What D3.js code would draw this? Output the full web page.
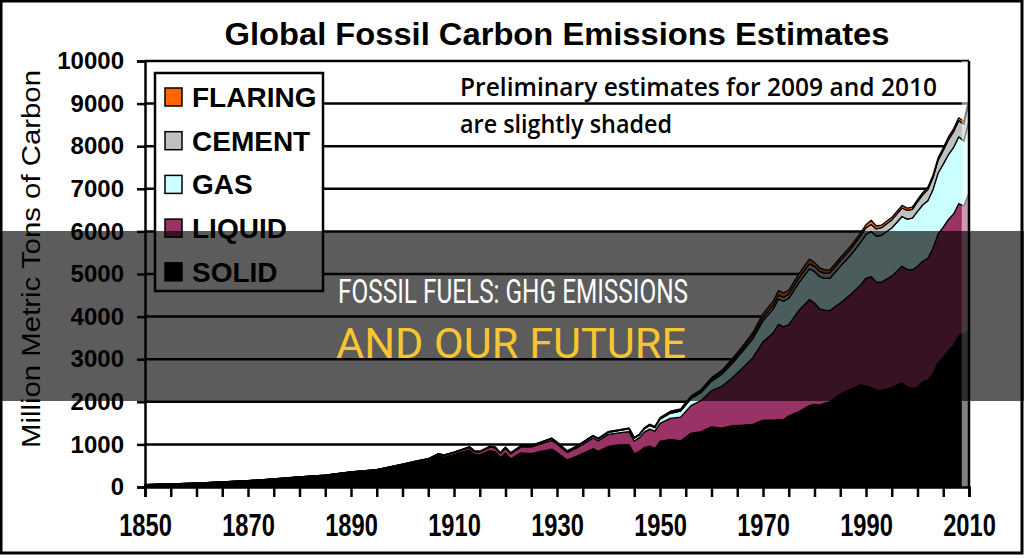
<!DOCTYPE html>
<html>
<head>
<meta charset="utf-8">
<script src="https://cdn.jsdelivr.net/npm/d3@7"></script>
<style>
html, body { margin: 0; padding: 0; background: #fff; }
svg { display: block; }
</style>
</head>
<body>
<svg id="chart" width="1024" height="558"></svg>
<script>
// estimates, million metric tons of carbon
var years = [1850,1855,1860,1865,1870,1875,1880,1885,1890,1895,
  1900,1903,1905,1907,1908,1910,1913,1914,1915,1917,
  1918,1919,1920,1921,1923,1925,1927,1929,1930,1932,
  1934,1936,1937,1938,1940,1942,1944,1945,1946,1947,
  1948,1949,1950,1952,1954,1956,1958,1960,1962,1964,
  1966,1968,1970,1972,1973,1974,1975,1977,1979,1980,
  1981,1982,1983,1985,1987,1989,1990,1991,1992,1993,
  1995,1997,1998,1999,2000,2001,2002,2003,2004,2005,
  2006,2007,2008,2009,2010];

var solid = [54,71,91,119,146,186,233,272,345,392,
  507,580,620,735,700,760,870,770,752,855,
  830,690,800,660,800,785,840,890,810,635,
  730,845,900,835,955,990,990,780,840,925,
  960,900,1070,1120,1080,1260,1300,1410,1380,1440,
  1450,1470,1570,1570,1580,1580,1670,1770,1910,1940,
  1920,1970,2000,2180,2290,2400,2370,2340,2280,2270,
  2330,2450,2350,2320,2340,2470,2500,2660,2920,3040,
  3200,3330,3550,3600,3700];

var liquid = [0,0,0,0,1,2,3,4,9,12,
  20,28,34,38,40,47,58,62,70,82,
  86,95,108,118,140,155,180,205,200,175,
  200,230,250,250,280,280,310,300,320,370,
  400,410,423,490,560,650,730,849,985,1120,
  1340,1560,1838,2050,2240,2180,2140,2380,2490,2380,
  2260,2180,2140,2140,2230,2350,2530,2600,2530,2540,
  2620,2730,2760,2780,2840,2830,2870,2940,3020,3060,
  3080,3080,3100,3000,3200];

var gas = [0,0,0,0,0,0,0,1,2,2,
  5,6,6,8,7,8,10,11,12,14,
  16,16,18,18,23,26,32,38,32,28,
  32,40,43,42,46,52,63,64,64,75,
  85,85,97,120,140,160,190,227,280,335,
  390,450,493,560,590,600,620,650,720,740,
  760,750,760,860,920,1000,1030,1060,1080,1100,
  1130,1170,1180,1210,1290,1320,1350,1380,1430,1480,
  1520,1560,1570,1520,1700];

var cement = [0,0,0,0,0,0,0,0,0,0,
  2,3,3,3,3,4,5,4,4,4,
  4,5,6,6,7,9,10,12,11,9,
  11,15,16,15,18,20,20,16,14,22,
  24,24,18,22,25,30,35,43,48,57,
  63,72,78,86,92,93,95,108,119,120,
  121,121,125,131,143,155,157,161,167,176,
  190,200,203,206,226,240,260,280,300,320,
  350,370,380,400,450];

var flaring = [0,0,0,0,0,0,0,0,0,0,
  0,0,0,0,0,0,0,0,0,0,
  0,0,0,0,0,0,0,0,0,0,
  0,0,0,0,0,0,0,0,0,0,
  0,0,23,26,30,33,35,39,44,52,
  60,70,87,100,110,107,90,100,110,90,
  85,75,75,70,70,65,70,100,70,60,
  60,60,55,55,50,50,55,55,60,62,
  65,68,66,66,70];

var keys = ["solid", "liquid", "gas", "cement", "flaring"];
var legendNames = ["FLARING", "CEMENT", "GAS", "LIQUID", "SOLID"];
var colors = { solid: "#000000", liquid: "#993366", gas: "#ccffff", cement: "#c0c0c0", flaring: "#ff6600" };
var yTicks = d3.range(0, 10001, 1000);
var xTicks = d3.range(1850, 2011, 5);

var rows = years.map(function (yr, i) {
  return { year: yr, solid: solid[i], liquid: liquid[i], gas: gas[i], cement: cement[i], flaring: flaring[i] };
});

var svg = d3.select("#chart");
var font = "'Liberation Sans', Arial, sans-serif";

var x = d3.scaleLinear().domain([1850, 2010]).range([145, 969]);
var y = d3.scaleLinear().domain([0, 10000]).range([487, 61]);

// squeeze a text to a given width
function squeeze(sel, factor) {
  sel.each(function () {
    var w = this.getComputedTextLength();
    d3.select(this).attr("textLength", w * factor).attr("lengthAdjust", "spacingAndGlyphs");
  });
}

// title
svg.append("text")
  .attr("x", 557).attr("y", 45)
  .attr("text-anchor", "middle")
  .style("font-family", font).style("font-weight", "bold").style("font-size", "31px")
  .attr("textLength", 665).attr("lengthAdjust", "spacingAndGlyphs")
  .text("Global Fossil Carbon Emissions Estimates");

// gridlines
svg.append("g").selectAll("line")
  .data(yTicks.slice(1))
  .join("line")
  .attr("x1", x(1850)).attr("x2", x(2010))
  .attr("y1", function (d) { return y(d); }).attr("y2", function (d) { return y(d); })
  .attr("stroke", "#000").attr("stroke-width", 2.5);

// stacked areas
var stack = d3.stack().keys(keys);
var series = stack(rows);
var area = d3.area()
  .x(function (d) { return x(d.data.year); })
  .y0(function (d) { return y(d[0]); })
  .y1(function (d) { return y(d[1]); });

svg.append("g").selectAll("path")
  .data(series)
  .join("path")
  .attr("d", area)
  .attr("fill", function (d) { return colors[d.key]; })
  .attr("stroke", "#000").attr("stroke-width", 1.3).attr("stroke-linejoin", "round");

// preliminary years shading
svg.append("rect")
  .attr("x", x(2008.6)).attr("y", y(10000))
  .attr("width", x(2010) - x(2008.6)).attr("height", y(0) - y(10000))
  .attr("fill", "#fff").attr("opacity", 0.5);

// right border of plot
svg.append("line")
  .attr("x1", x(2010)).attr("x2", x(2010)).attr("y1", y(10000)).attr("y2", y(0))
  .attr("stroke", "#000").attr("stroke-width", 2.5);

// axes
var yAxis = svg.append("g")
  .attr("transform", "translate(" + x(1850) + ",0)")
  .call(d3.axisLeft(y).tickValues(yTicks).tickSize(8).tickPadding(13).tickFormat(d3.format("d")));
yAxis.selectAll("text")
  .style("font-family", font).style("font-weight", "bold").style("font-size", "24px").attr("fill", "#000");

var xAxis = svg.append("g")
  .attr("transform", "translate(0," + y(0) + ")")
  .call(d3.axisBottom(x).tickValues(xTicks).tickSize(10).tickPadding(16)
    .tickFormat(function (d) { return d % 20 === 10 ? d : ""; }));
xAxis.selectAll("text")
  .style("font-family", font).style("font-weight", "bold").style("font-size", "32px").attr("fill", "#000")
  .call(squeeze, 0.74);

svg.selectAll(".domain").attr("stroke", "#000").attr("stroke-width", 2.5);
svg.selectAll(".tick line").attr("stroke", "#000").attr("stroke-width", 2.5);

// y title
svg.append("text")
  .attr("transform", "translate(40,259) rotate(-90)")
  .attr("text-anchor", "middle")
  .style("font-family", font).style("font-size", "26px")
  .attr("textLength", 378).attr("lengthAdjust", "spacingAndGlyphs")
  .text("Million Metric Tons of Carbon");

// note
var note = svg.append("g")
  .style("font-family", "'Open Sans', 'Noto Sans', sans-serif").style("font-size", "25px")
  .style("font-weight", "600");
note.append("text").attr("x", 460).attr("y", 96)
  .attr("textLength", 477).attr("lengthAdjust", "spacingAndGlyphs")
  .text("Preliminary estimates for 2009 and 2010");
note.append("text").attr("x", 460).attr("y", 133)
  .attr("textLength", 212).attr("lengthAdjust", "spacingAndGlyphs")
  .text("are slightly shaded");

// legend
var legend = svg.append("g");
legend.append("rect")
  .attr("x", 155).attr("y", 73).attr("width", 168).attr("height", 218)
  .attr("fill", "#fff").attr("stroke", "#000").attr("stroke-width", 2.5);
var item = legend.selectAll("g.item")
  .data(legendNames)
  .join("g").attr("class", "item")
  .attr("transform", function (d, i) { return "translate(0," + (97 + i * 43.7) + ")"; });
item.append("rect")
  .attr("x", 165).attr("y", -9).attr("width", 17).attr("height", 18)
  .attr("fill", function (d) { return colors[d.toLowerCase()]; })
  .attr("stroke", "#000").attr("stroke-width", 1.5);
item.append("text")
  .attr("x", 192).attr("y", 10)
  .style("font-family", font).style("font-weight", "bold").style("font-size", "28px")
  .text(function (d) { return d; });

// caption band over the chart
svg.append("rect")
  .attr("x", 0).attr("y", 231).attr("width", 1024).attr("height", 170)
  .attr("fill", "#000").attr("opacity", 0.64);
svg.append("text")
  .attr("x", 513).attr("y", 303).attr("text-anchor", "middle")
  .style("font-family", "Roboto, sans-serif").style("font-size", "34px").attr("fill", "#fff")
  .attr("textLength", 350).attr("lengthAdjust", "spacingAndGlyphs")
  .text("FOSSIL FUELS: GHG EMISSIONS");
svg.append("text")
  .attr("x", 511).attr("y", 358).attr("text-anchor", "middle")
  .style("font-family", "Roboto, sans-serif").style("font-size", "43px").attr("fill", "#f7c531")
  .attr("textLength", 350).attr("lengthAdjust", "spacingAndGlyphs")
  .text("AND OUR FUTURE");

// outer frame
svg.append("rect")
  .attr("x", 1).attr("y", 1).attr("width", 1021).attr("height", 552)
  .attr("fill", "none").attr("stroke", "#000").attr("stroke-width", 3);
</script>
</body>
</html>
